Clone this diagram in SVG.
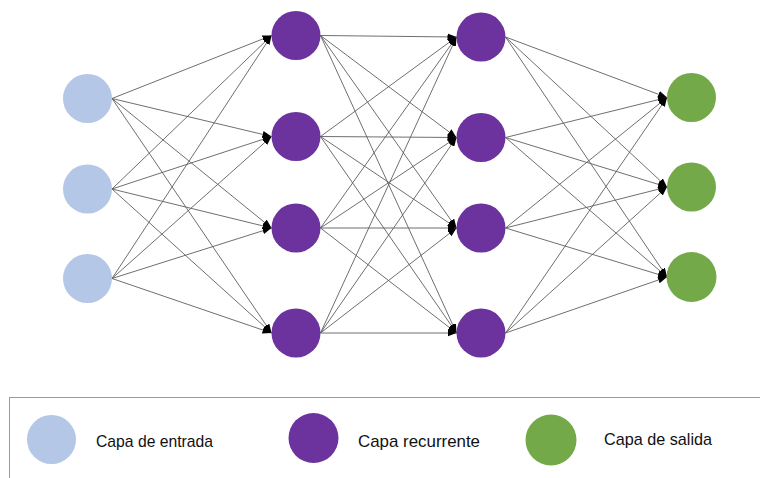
<svg xmlns="http://www.w3.org/2000/svg" width="760" height="478" viewBox="0 0 760 478">
  <style>
    .edge { stroke: #5f5f5f; stroke-width: 0.9; fill: none; marker-end: url(#arrow); }
    .in { fill: #B4C7E7; }
    .rec { fill: #6C339F; }
    .out { fill: #74A94A; }
    .lbl { font-family: "Liberation Sans", Arial, sans-serif; font-size: 17px; fill: #111; }
    .frame { fill: none; stroke: #9a9a9a; stroke-width: 1; }
  </style>
  <defs>
    <marker id="arrow" markerUnits="userSpaceOnUse" markerWidth="9" markerHeight="7" refX="9" refY="3.5" orient="auto">
      <path d="M0,0 L9,3.5 L0,7 z" fill="#000"/>
    </marker>
  </defs>
  <rect width="760" height="478" fill="#fff"/>

  <!-- connections -->
  <g id="connectors">
    <!-- input layer to first recurrent layer -->
    <line class="edge" x1="112" y1="98.5" x2="271.5" y2="35.5"/>
    <line class="edge" x1="112" y1="98.5" x2="271.5" y2="136.5"/>
    <line class="edge" x1="112" y1="98.5" x2="271.5" y2="228"/>
    <line class="edge" x1="112" y1="98.5" x2="271.5" y2="333"/>
    <line class="edge" x1="112" y1="189" x2="271.5" y2="35.5"/>
    <line class="edge" x1="112" y1="189" x2="271.5" y2="136.5"/>
    <line class="edge" x1="112" y1="189" x2="271.5" y2="228"/>
    <line class="edge" x1="112" y1="189" x2="271.5" y2="333"/>
    <line class="edge" x1="112" y1="278.5" x2="271.5" y2="35.5"/>
    <line class="edge" x1="112" y1="278.5" x2="271.5" y2="136.5"/>
    <line class="edge" x1="112" y1="278.5" x2="271.5" y2="228"/>
    <line class="edge" x1="112" y1="278.5" x2="271.5" y2="333"/>
    <!-- first recurrent layer to second recurrent layer -->
    <line class="edge" x1="320.5" y1="35.5" x2="456.5" y2="37"/>
    <line class="edge" x1="320.5" y1="35.5" x2="456.5" y2="137.5"/>
    <line class="edge" x1="320.5" y1="35.5" x2="456.5" y2="228"/>
    <line class="edge" x1="320.5" y1="35.5" x2="456.5" y2="333"/>
    <line class="edge" x1="320.5" y1="136.5" x2="456.5" y2="37"/>
    <line class="edge" x1="320.5" y1="136.5" x2="456.5" y2="137.5"/>
    <line class="edge" x1="320.5" y1="136.5" x2="456.5" y2="228"/>
    <line class="edge" x1="320.5" y1="136.5" x2="456.5" y2="333"/>
    <line class="edge" x1="320.5" y1="228" x2="456.5" y2="37"/>
    <line class="edge" x1="320.5" y1="228" x2="456.5" y2="137.5"/>
    <line class="edge" x1="320.5" y1="228" x2="456.5" y2="228"/>
    <line class="edge" x1="320.5" y1="228" x2="456.5" y2="333"/>
    <line class="edge" x1="320.5" y1="333" x2="456.5" y2="37"/>
    <line class="edge" x1="320.5" y1="333" x2="456.5" y2="137.5"/>
    <line class="edge" x1="320.5" y1="333" x2="456.5" y2="228"/>
    <line class="edge" x1="320.5" y1="333" x2="456.5" y2="333"/>
    <!-- second recurrent layer to output layer -->
    <line class="edge" x1="505.5" y1="37" x2="667" y2="97.5"/>
    <line class="edge" x1="505.5" y1="37" x2="667" y2="187"/>
    <line class="edge" x1="505.5" y1="37" x2="667" y2="277"/>
    <line class="edge" x1="505.5" y1="137.5" x2="667" y2="97.5"/>
    <line class="edge" x1="505.5" y1="137.5" x2="667" y2="187"/>
    <line class="edge" x1="505.5" y1="137.5" x2="667" y2="277"/>
    <line class="edge" x1="505.5" y1="228" x2="667" y2="97.5"/>
    <line class="edge" x1="505.5" y1="228" x2="667" y2="187"/>
    <line class="edge" x1="505.5" y1="228" x2="667" y2="277"/>
    <line class="edge" x1="505.5" y1="333" x2="667" y2="97.5"/>
    <line class="edge" x1="505.5" y1="333" x2="667" y2="187"/>
    <line class="edge" x1="505.5" y1="333" x2="667" y2="277"/>
  </g>

  <!-- input layer -->
  <g id="in1"><circle class="in" cx="87.5" cy="98.5" r="24.5"/></g>
  <g id="in2"><circle class="in" cx="87.5" cy="189" r="24.5"/></g>
  <g id="in3"><circle class="in" cx="87.5" cy="278.5" r="24.5"/></g>

  <!-- first recurrent layer -->
  <g id="h1a"><circle class="rec" cx="296" cy="35.5" r="24.5"/></g>
  <g id="h1b"><circle class="rec" cx="296" cy="136.5" r="24.5"/></g>
  <g id="h1c"><circle class="rec" cx="296" cy="228" r="24.5"/></g>
  <g id="h1d"><circle class="rec" cx="296" cy="333" r="24.5"/></g>

  <!-- second recurrent layer -->
  <g id="h2a"><circle class="rec" cx="481" cy="37" r="24.5"/></g>
  <g id="h2b"><circle class="rec" cx="481" cy="137.5" r="24.5"/></g>
  <g id="h2c"><circle class="rec" cx="481" cy="228" r="24.5"/></g>
  <g id="h2d"><circle class="rec" cx="481" cy="333" r="24.5"/></g>

  <!-- output layer -->
  <g id="out1"><circle class="out" cx="691.5" cy="97.5" r="24.5"/></g>
  <g id="out2"><circle class="out" cx="691.5" cy="187" r="24.5"/></g>
  <g id="out3"><circle class="out" cx="691.5" cy="277" r="25"/></g>

  <!-- legend -->
  <g id="legend">
    <rect class="frame" x="9.5" y="397.5" width="770" height="100"/>
    <circle class="in" cx="51.5" cy="439.5" r="24.5"/>
    <text class="lbl" x="96" y="446.5" textLength="117" lengthAdjust="spacingAndGlyphs">Capa de entrada</text>
    <circle class="rec" cx="313.5" cy="438" r="25"/>
    <text class="lbl" x="358" y="446.5" textLength="122" lengthAdjust="spacingAndGlyphs">Capa recurrente</text>
    <circle class="out" cx="551" cy="440" r="25.5"/>
    <text class="lbl" x="604" y="445" textLength="108" lengthAdjust="spacingAndGlyphs">Capa de salida</text>
  </g>
</svg>
